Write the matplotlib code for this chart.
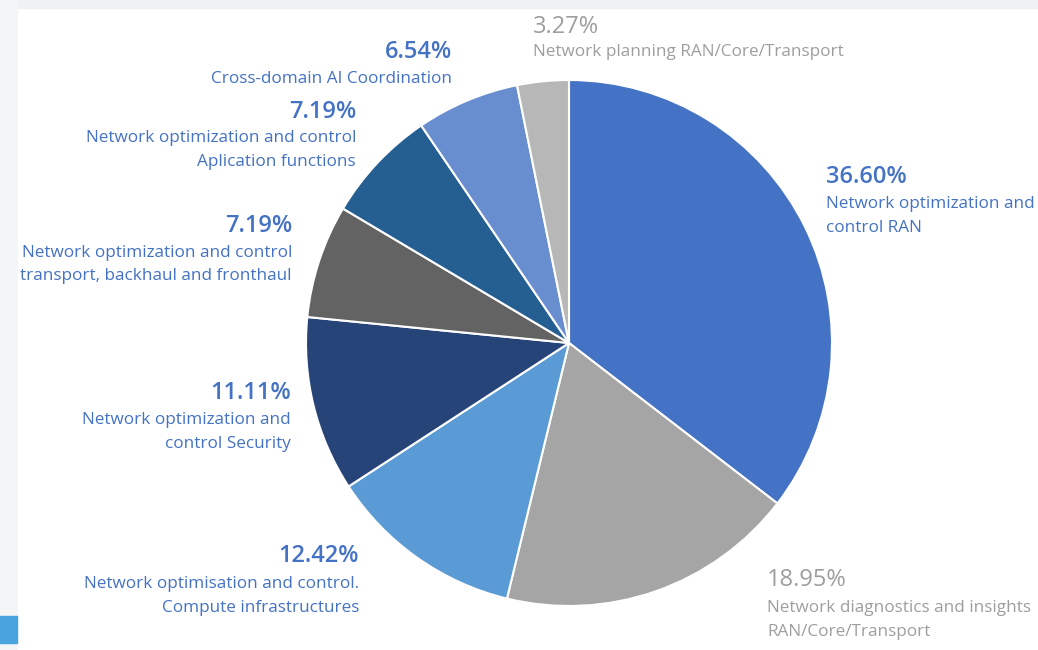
import matplotlib
matplotlib.use("Agg")
from matplotlib import pyplot as plt
from matplotlib.patches import Rectangle

# Data
values = [36.60, 18.95, 12.42, 11.11, 7.19, 7.19, 6.54, 3.27]
pct_labels = ["36.60%", "18.95%", "12.42%", "11.11%", "7.19%", "7.19%", "6.54%", "3.27%"]
names = ["Network optimization and\ncontrol RAN",
         "Network diagnostics and insights\nRAN/Core/Transport",
         "Network optimisation and control.\nCompute infrastructures",
         "Network optimization and\ncontrol Security",
         "Network optimization and control\ntransport, backhaul and fronthaul",
         "Network optimization and control\nAplication functions",
         "Cross-domain AI Coordination",
         "Network planning RAN/Core/Transport"]
colors = ["#4472C4", "#A5A5A5", "#5B9BD5", "#264478", "#636363", "#255E91", "#698ED0", "#B7B7B7"]

# label layout in pixels: (x of aligned edge, y of percent, y of first text line, alignment, text colour)
BLUE = "#4472C4"
GREY = "#9E9E9E"
layout = [(826, 177, 204, "left", BLUE),
          (767, 580, 608, "left", GREY),
          (359, 556, 584, "right", BLUE),
          (291, 393, 420, "right", BLUE),
          (292, 226, 253, "right", BLUE),
          (356, 112, 138, "right", BLUE),
          (452, 52, 79, "right", BLUE),
          (533, 27, 52, "left", GREY)]

W, H = 1038, 650
fig = plt.figure(figsize=(W / 100, H / 100), dpi=100)
fig.patches.append(Rectangle((0, 1 - 8 / H), 1, 8 / H, transform=fig.transFigure, color="#f0f1f3", zorder=0))
fig.patches.append(Rectangle((0, 0), 17 / W, 1, transform=fig.transFigure, color="#f4f5f7", zorder=0))
fig.patches.append(Rectangle((0, 1 - 643 / H), 17 / W, 27 / H, transform=fig.transFigure, color="#48A3DE", zorder=1))

ax = fig.add_axes([0, 0, 1, 1])
ax.patch.set_alpha(0)
ax.pie(values, colors=colors, startangle=90, counterclock=False,
       center=(569, H - 343), radius=263,
       wedgeprops=dict(edgecolor="white", linewidth=1.5))
ax.set_xlim(0, W)
ax.set_ylim(0, H)
ax.set_aspect("equal")
ax.axis("off")

for pct, name, (x, yp, yt, ha, col) in zip(pct_labels, names, layout):
    weight = "semibold" if col == BLUE else "normal"
    ax.text(x, H - yp, pct, ha=ha, va="center", fontsize=17, color=col,
            fontfamily="Open Sans", fontweight=weight)
    for i, line in enumerate(name.split("\n")):
        ax.text(x, H - yt - i * 23.5, line, ha=ha, va="center", fontsize=12.3,
                color=col, fontfamily="Open Sans")

fig.savefig("out.png", dpi=100)
